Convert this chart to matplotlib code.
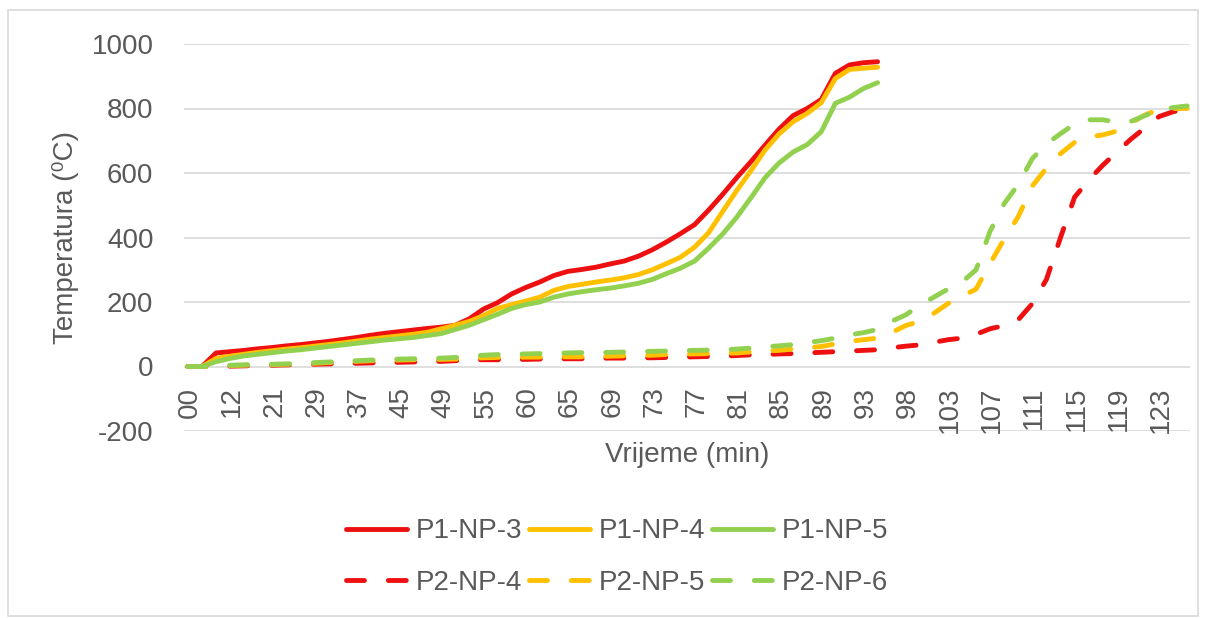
import matplotlib
matplotlib.use('Agg')
import matplotlib.pyplot as plt
import matplotlib.transforms as mtransforms
from matplotlib.patches import Rectangle

plt.rcParams['font.family'] = ['Liberation Sans', 'DejaVu Sans']
plt.rcParams['axes.unicode_minus'] = False

# x axis: category axis (every 3rd category labelled)
time_labels = ['00', '12', '21', '29', '37', '45', '49', '55', '60', '65', '69', '73',
               '77', '81', '85', '89', '93', '98', '103', '107', '111', '115', '119', '123']
label_step = 3
n_cat = 72

# P1 series (50 points)
p1_np3 = [0, 0, 42, 46, 50, 55, 59, 64, 68, 73,
          78, 84, 90, 97, 103, 108, 113, 118, 122, 128,
          148, 178, 198, 225, 245, 262, 282, 295, 301, 308,
          318, 327, 342, 362, 386, 412, 440, 485, 534, 586,
          635, 686, 736, 778, 800, 828, 909, 935, 942, 945]
p1_np4 = [0, 0, 25, 32, 38, 44, 49, 54, 58, 63,
          68, 73, 79, 85, 90, 95, 100, 106, 117, 128,
          140, 158, 180, 192, 203, 215, 236, 248, 255, 262,
          268, 275, 285, 300, 319, 339, 370, 415, 481, 546,
          607, 671, 721, 759, 785, 818, 893, 921, 925, 928]
p1_np5 = [0, 0, 15, 25, 33, 38, 43, 48, 52, 57,
          62, 67, 72, 77, 82, 86, 90, 96, 102, 115,
          128, 145, 162, 180, 192, 200, 215, 225, 232, 238,
          243, 250, 258, 270, 288, 305, 327, 367, 411, 463,
          523, 585, 631, 665, 688, 728, 816, 835, 862, 880]

# P2 series (72 points)
p2_np4 = [0, 0, 0, 1, 2, 3, 4, 5, 6, 7,
          8, 9, 10, 11, 12, 13, 14, 15, 16, 18,
          20, 21, 21, 22, 22, 23, 23, 24, 24, 25,
          26, 26, 27, 27, 28, 29, 30, 31, 32, 34,
          36, 37, 39, 40, 42, 44, 46, 48, 50, 52,
          58, 63, 67, 75, 83, 88, 100, 117, 127, 145,
          195, 270, 400, 525, 578, 624, 665, 705, 740, 775,
          790, 798]
p2_np5 = [0, 0, 1, 3, 4, 5, 6, 7, 8, 10,
          12, 14, 16, 18, 19, 20, 21, 22, 22, 23,
          25, 27, 28, 28, 29, 29, 30, 30, 30, 31,
          32, 33, 34, 35, 37, 38, 39, 40, 41, 42,
          45, 48, 50, 54, 58, 62, 70, 78, 83, 88,
          105, 127, 140, 165, 195, 218, 240, 320, 395, 465,
          560, 615, 660, 695, 712, 718, 730, 755, 780, 797,
          800, 800]
p2_np6 = [0, 0, 2, 4, 5, 6, 7, 8, 10, 12,
          14, 16, 18, 20, 22, 23, 24, 25, 26, 28,
          32, 35, 37, 38, 39, 40, 41, 42, 43, 43,
          44, 45, 46, 47, 48, 49, 50, 51, 52, 54,
          57, 61, 64, 68, 74, 80, 88, 98, 105, 115,
          140, 160, 190, 215, 240, 262, 300, 420, 505, 565,
          645, 690, 722, 752, 765, 765, 758, 760, 778, 795,
          803, 808]

red = '#ee1010'
gold = '#ffc000'
green = '#92d050'
grey_txt = '#595959'
grid_col = '#d9d9d9'

W, H = 1205, 618
fig = plt.figure(figsize=(W / 100, H / 100), dpi=100)
ax = fig.add_axes([184 / W, 1 - 431 / H, (1190 - 184) / W, (431 - 44) / H])

lw = 3.5
dash = (3.7, 4.9)
series = [
    ('P1-NP-3', p1_np3, red, '-'),
    ('P1-NP-4', p1_np4, gold, '-'),
    ('P1-NP-5', p1_np5, green, '-'),
    ('P2-NP-4', p2_np4, red, '--'),
    ('P2-NP-5', p2_np5, gold, '--'),
    ('P2-NP-6', p2_np6, green, '--'),
]
handles = {}
for name, vals, col, ls in series:
    xs = list(range(len(vals)))
    if ls == '-':
        h, = ax.plot(xs, vals, color=col, lw=lw, solid_capstyle='round',
                     solid_joinstyle='round', label=name)
    else:
        h, = ax.plot(xs, vals, color=col, lw=lw, dashes=dash,
                     dash_capstyle='round', dash_joinstyle='round', label=name)
    handles[name] = h

ax.set_xlim(-0.28, n_cat - 1 + 0.2)
ax.set_ylim(-200, 1000)
ax.set_yticks(range(-200, 1001, 200))
ax.set_xticks([])
ax.grid(axis='y', color=grid_col, lw=1.2)
ax.set_axisbelow(True)
for s in ax.spines.values():
    s.set_visible(False)
ax.tick_params(axis='y', length=0, pad=22, labelsize=20, labelcolor=grey_txt)

# category labels hanging below the 0 line
off = mtransforms.offset_copy(ax.transData, fig=fig, x=2, y=-20, units='dots')
for k, lab in enumerate(time_labels):
    ax.text(k * label_step, 0, lab, rotation=90, ha='center', va='top',
            fontsize=20, color=grey_txt, transform=off)

ax.set_ylabel('Temperatura (⁰C)', fontsize=20, color=grey_txt, labelpad=9)
fig.text(687 / W, 1 - 455 / H, 'Vrijeme (min)', fontsize=20, color=grey_txt,
         ha='center', va='center')

order = ['P1-NP-3', 'P2-NP-4', 'P1-NP-4', 'P2-NP-5', 'P1-NP-5', 'P2-NP-6']
leg = fig.legend([handles[n] for n in order], order, ncol=3, loc='center',
                 bbox_to_anchor=(617 / W, 1 - 557 / H), frameon=False,
                 fontsize=20, handlelength=2.2, handletextpad=0.3,
                 columnspacing=0.25, labelspacing=0.9)
for t in leg.get_texts():
    t.set_color(grey_txt)

fig.patches.append(Rectangle((8 / W, 2 / H), (1198 - 8) / W, (608 - 2) / H,
                             transform=fig.transFigure, fill=False,
                             edgecolor=grid_col, lw=1.2))

fig.savefig('out.png', dpi=100)
